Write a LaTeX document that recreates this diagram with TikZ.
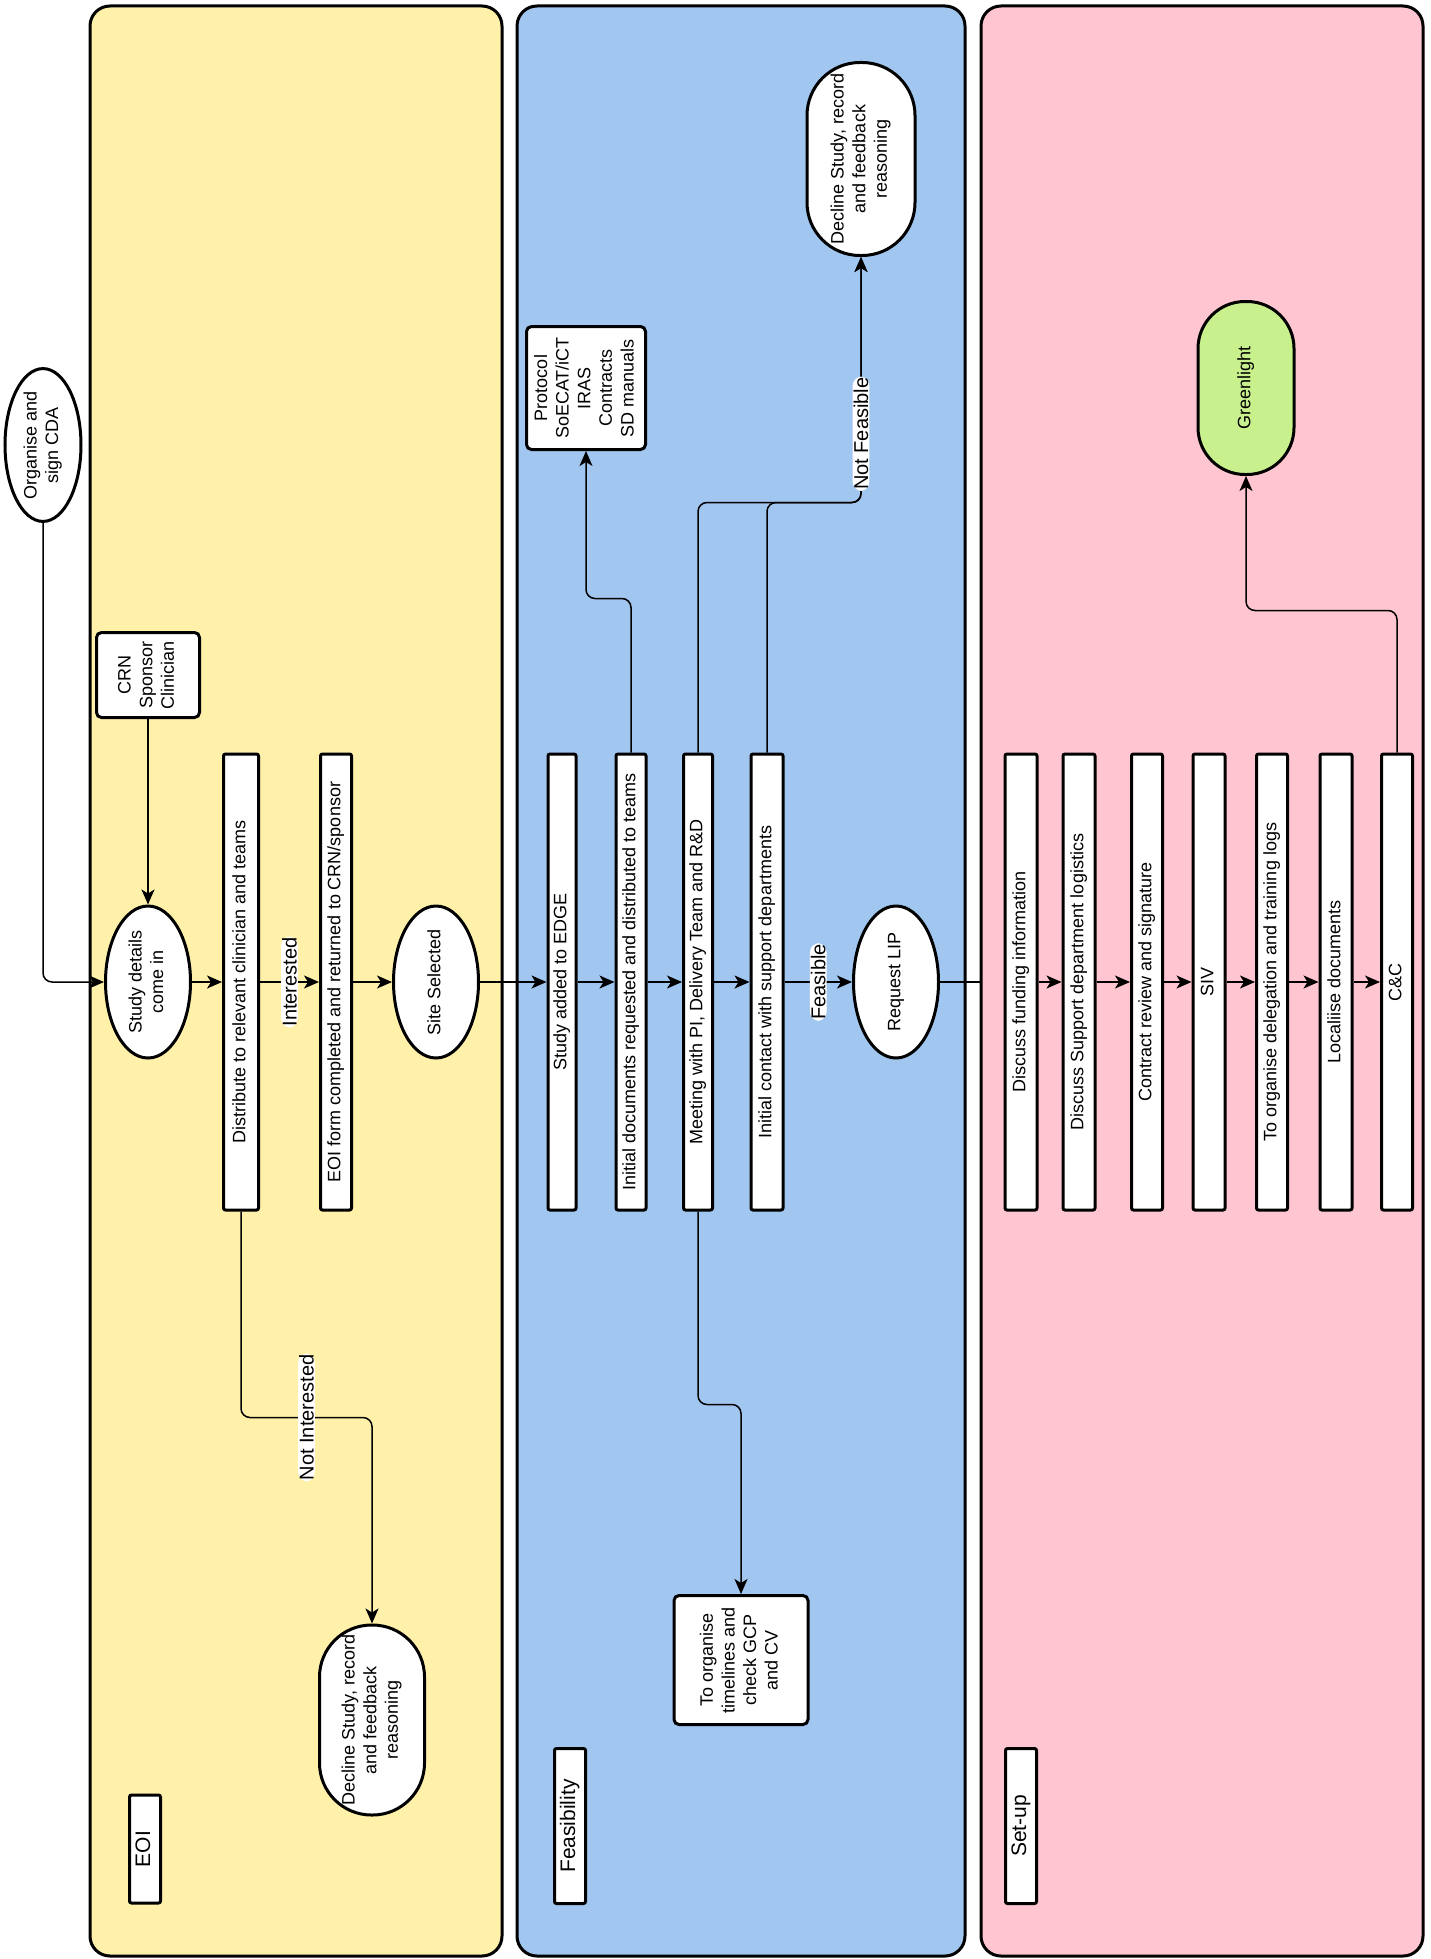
\documentclass[tikz,border=0pt]{standalone}
\usepackage{fontspec}
\setmainfont{Liberation Sans}
\usepackage{graphicx}
\usepackage{tikz}
\usetikzlibrary{shapes.geometric, positioning, arrows.meta, calc}

% colours of the three lanes
\definecolor{eoiyellow}{HTML}{FFF0AA}
\definecolor{feasblue}{HTML}{A1C6F0}
\definecolor{setuppink}{HTML}{FFC6D2}
\definecolor{greenlit}{HTML}{C8F08C}

% text turned to read bottom to top
\newcommand{\sidetext}[1]{\rotatebox{90}{\begin{tabular}{@{}c@{}}#1\end{tabular}}}

\tikzset{
    lane/.style={draw, line width=3pt, rounded corners=20pt, minimum height=1950pt},
    procbox/.style={draw, fill=white, line width=3pt, rounded corners=2pt, inner sep=0pt,
        minimum width=31pt, minimum height=456pt, font=\fontsize{18}{21.6}\selectfont},
    infobox/.style={draw, fill=white, line width=3pt, rounded corners=5pt, inner sep=0pt,
        font=\fontsize{18}{21.6}\selectfont},
    oval/.style={ellipse, draw, fill=white, line width=3pt, inner sep=0pt,
        minimum width=85pt, minimum height=152pt, font=\fontsize{18}{21.6}\selectfont},
    stadium/.style={draw, fill=white, line width=3pt, inner sep=0pt,
        font=\fontsize{18}{21.6}\selectfont},
    lanelab/.style={draw, fill=white, line width=3pt, rounded corners=2pt, inner sep=0pt,
        minimum width=31pt, font=\fontsize{21}{25}\selectfont},
    flow/.style={->, line width=1.5pt, rounded corners=9pt},
    edgelab/.style={fill=white, inner sep=1pt, rotate=90, font=\fontsize{20}{24}\selectfont}
}

\begin{document}
\begin{tikzpicture}[x=1pt, y=-1pt, >={Stealth[length=15pt, width=13pt, inset=4pt]}]
    \useasboundingbox (0,0) rectangle (1431,1959);

    % Draw the lanes
    \node[lane, fill=eoiyellow, minimum width=412pt] (eoi) at (296,981) {};
    \node[lane, fill=feasblue, minimum width=448pt] (feas) at (741,981) {};
    \node[lane, fill=setuppink, minimum width=442pt] (setup) at (1202,981) {};

    % Lane titles
    \node[lanelab, minimum height=108pt] (eoilabel) at (145,1849) {\sidetext{EOI}};
    \node[lanelab, minimum height=155pt] (feaslabel) at (570,1826) {\sidetext{Feasibility}};
    \node[lanelab, minimum height=155pt] (setuplabel) at (1021,1826) {\sidetext{Set-up}};

    % EOI steps
    \node[oval, minimum width=76pt, minimum height=135pt] (cda) at (43,445) {\sidetext{Organise and\\sign CDA}};
    \node[infobox, minimum width=103pt, minimum height=85pt] (crn) at (148,675) {\sidetext{CRN\\Sponsor\\Clinician}};
    \node[oval] (study) at (148,982) {\sidetext{Study details\\come in}};
    \node[procbox, minimum width=35pt] (dist) at (241,982) {\sidetext{Distribute to relevant clinician and teams}};
    \node[procbox] (eoiform) at (336,982) {\sidetext{EOI form completed and returned to CRN/sponsor}};
    \node[oval] (site) at (436,982) {\sidetext{Site Selected}};
    \node[stadium, rounded corners=52pt, minimum width=105pt, minimum height=190pt] (declineA) at (372,1720)
        {\sidetext{Decline Study, record\\and feedback\\reasoning}};

    % Feasibility steps
    \node[procbox, minimum width=28pt] (edge) at (562,982) {\sidetext{Study added to EDGE}};
    \node[procbox, minimum width=30pt] (docs) at (631,982) {\sidetext{Initial documents requested and distributed to teams}};
    \node[procbox, minimum width=29pt] (meet) at (698,982) {\sidetext{Meeting with PI, Delivery Team and R\&D}};
    \node[procbox, minimum width=32pt] (contact) at (767,982) {\sidetext{Initial contact with support departments}};
    \node[oval] (lip) at (896,982) {\sidetext{Request LIP}};
    \node[infobox, minimum width=119pt, minimum height=123pt] (protocol) at (586,388)
        {\sidetext{Protocol\\SoECAT/iCT\\IRAS\\Contracts\\SD manuals}};
    \node[stadium, rounded corners=53pt, minimum width=108pt, minimum height=193pt] (declineB) at (861,159)
        {\sidetext{Decline Study, record\\and feedback\\reasoning}};
    \node[infobox, minimum width=134pt, minimum height=129pt] (organise) at (741,1660)
        {\sidetext{To organise\\timelines and\\check GCP\\and CV}};

    % Set-up steps
    \node[procbox, minimum width=32pt] (fund) at (1021,982) {\sidetext{Discuss funding information}};
    \node[procbox, minimum width=32pt] (logist) at (1079,982) {\sidetext{Discuss Support department logistics}};
    \node[procbox, minimum width=31pt] (contract) at (1147,982) {\sidetext{Contract review and signature}};
    \node[procbox, minimum width=32pt] (siv) at (1209,982) {\sidetext{SIV}};
    \node[procbox, minimum width=31pt] (deleg) at (1272,982) {\sidetext{To organise delegation and training logs}};
    \node[procbox, minimum width=32pt] (local) at (1336,982) {\sidetext{Localiise documents}};
    \node[procbox, minimum width=31pt] (cc) at (1397,982) {\sidetext{C\&C}};
    \node[stadium, fill=greenlit, rounded corners=47pt, minimum width=96pt, minimum height=173pt] (green) at (1246,388)
        {\sidetext{Greenlight}};

    % Main flow
    \draw[flow] (cda.south) |- (study.west);
    \draw[flow] (crn.south) -- (study.north);
    \draw[flow] (study) -- (dist);
    \draw[flow] (dist) -- node[edgelab] {Interested} (eoiform);
    \draw[flow] (eoiform) -- (site);
    \draw[flow] (site) -- (edge);
    \draw[flow] (edge) -- (docs);
    \draw[flow] (docs) -- (meet);
    \draw[flow] (meet) -- (contact);
    \draw[flow] (contact) -- node[edgelab] {Feasible} (lip);
    \draw[line width=1.5pt] (lip.east) -- (lip.east -| setup.west);
    \draw[flow] (fund) -- (logist);
    \draw[flow] (logist) -- (contract);
    \draw[flow] (contract) -- (siv);
    \draw[flow] (siv) -- (deleg);
    \draw[flow] (deleg) -- (local);
    \draw[flow] (local) -- (cc);

    % Side branches
    \draw[flow] (dist.south) -- ++(0,206) -| node[edgelab, pos=0.25] {Not Interested} (declineA.north);
    \draw[flow] (docs.north) -- ++(0,-154) -| (protocol.south);
    \draw[flow] (meet.north) -- ++(0,-250) -| (declineB.south);
    \draw[flow] (contact.north) -- ++(0,-250) -| node[edgelab, pos=0.64] {Not Feasible} (declineB.south);
    \draw[flow] (meet.south) -- ++(0,193) -| (organise.north);
    \draw[flow] (cc.north) -- ++(0,-142) -| (green.south);
\end{tikzpicture}
\end{document}
